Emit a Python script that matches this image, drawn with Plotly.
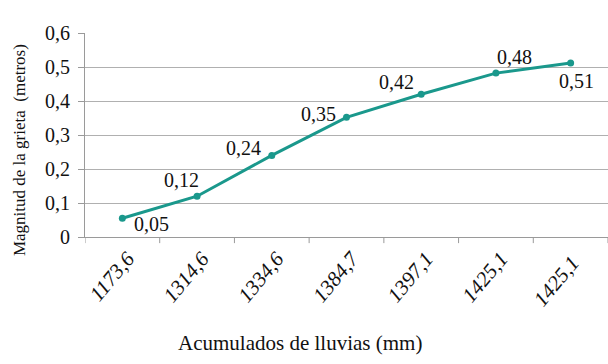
import plotly.graph_objects as go

categories = ["1173,6", "1314,6", "1334,6", "1384,7", "1397,1", "1425,1", "1425,1 "]
values = [0.055, 0.12, 0.24, 0.352, 0.42, 0.482, 0.512]
labels = ["0,05", "0,12", "0,24", "0,35", "0,42", "0,48", "0,51"]
ytick_vals = [0, 0.1, 0.2, 0.3, 0.4, 0.5, 0.6]
ytick_text = ["0", "0,1", "0,2", "0,3", "0,4", "0,5", "0,6"]

# pixel offsets of the value labels from their points (style only)
label_dx = [29, -16, -28, -28, -25, 19, 6]
label_dy = [-6, 16, 7, 3, 12, 16, -18]

FONT = "Liberation Serif"
teal = "#1a988c"
xs = list(range(len(categories)))

fig = go.Figure()
fig.add_trace(go.Scatter(
    x=xs, y=values,
    mode="lines+markers",
    line=dict(color=teal, width=3),
    marker=dict(color=teal, size=7),
    cliponaxis=False, hoverinfo="skip",
))

for x, y, t, dx, dy in zip(xs, values, labels, label_dx, label_dy):
    fig.add_annotation(x=x, y=y, xref="x", yref="y", text=t, showarrow=False,
                       xshift=dx, yshift=dy, xanchor="center", yanchor="middle",
                       font=dict(family=FONT, size=20, color="#111"))

# axis titles
fig.add_annotation(x=0, y=0.426, xref="paper", yref="paper",
                   text="Magnitud de la grieta  (metros)", textangle=-90,
                   showarrow=False, xanchor="center", yanchor="middle", xshift=-66,
                   font=dict(family=FONT, size=17, color="#111"))
fig.add_annotation(x=0.411, y=-0.52, xref="paper", yref="paper",
                   text="Acumulados de lluvias (mm)",
                   showarrow=False, xanchor="center", yanchor="middle",
                   font=dict(family=FONT, size=21, color="#111"))

fig.update_layout(
    width=608, height=364,
    margin=dict(l=85, r=0, t=33, b=127),
    paper_bgcolor="white", plot_bgcolor="white",
    showlegend=False,
    font=dict(family=FONT, color="#111"),
    xaxis=dict(
        range=[-0.5, len(categories) - 0.5],
        tickvals=xs,
        ticktext=["<i>%s</i>" % c for c in categories],
        tickangle=-50,
        tickfont=dict(family=FONT, size=21),
        ticklabelshift=5,
        showgrid=False, showline=True, linecolor="#9a9a9a", linewidth=1,
        ticks="", zeroline=False, automargin=False,
    ),
    yaxis=dict(
        range=[0, 0.6],
        tickvals=ytick_vals, ticktext=ytick_text,
        tickfont=dict(family=FONT, size=20),
        ticklabelstandoff=4,
        showgrid=True, gridcolor="#b0b0b0", gridwidth=1,
        showline=True, linecolor="#9a9a9a", linewidth=1,
        ticks="outside", ticklen=6, tickcolor="#9a9a9a",
        zeroline=False, automargin=False,
    ),
)

for i in range(len(categories) + 1):
    fig.add_shape(type="line", xref="x", yref="paper",
                  x0=i - 0.5, x1=i - 0.5, y0=0, y1=-0.03,
                  line=dict(color="#9a9a9a", width=1))

fig.write_html("out.html", config={"displayModeBar": False},
               post_script="document.body.style.margin='0';")
